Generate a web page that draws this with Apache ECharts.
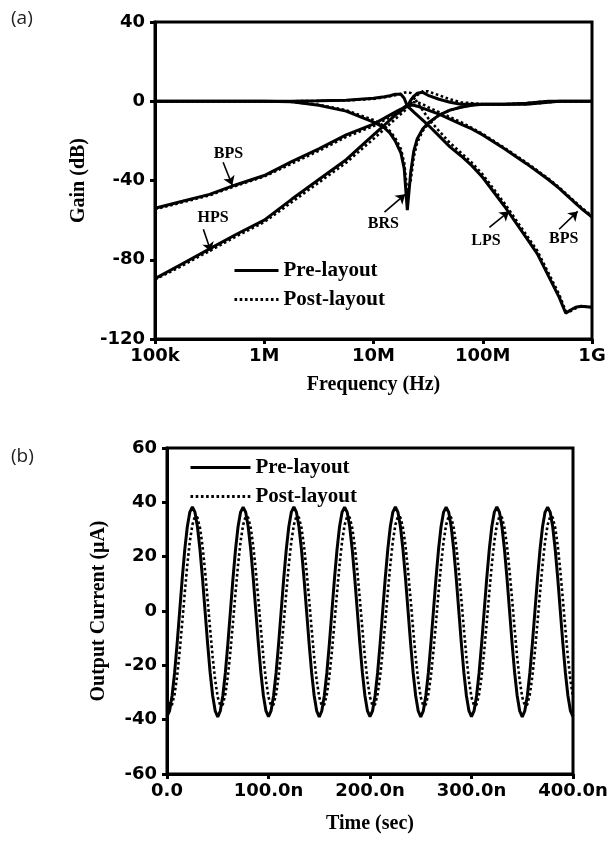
<!DOCTYPE html>
<html><head><meta charset="utf-8">
<script src="https://cdn.jsdelivr.net/npm/echarts@6/dist/echarts.min.js"></script>
<style>html,body{margin:0;padding:0;background:#fff}#c{width:613px;height:841px}</style>
</head><body><div id="c"></div>
<script>
// ---------- (a) Frequency response ----------
const freqHz = [1e5,1.78e5,3.16e5,5.62e5,1e6,1.78e6,3.16e6,5.62e6,1e7,1.26e7,1.41e7,1.58e7,1.78e7,1.91e7,2.04e7,2.19e7,2.34e7,2.51e7,2.82e7,3.16e7,3.98e7,5.01e7,6.31e7,7.94e7,1e8,1.58e8,2.51e8,3.16e8,3.98e8,5.01e8,5.75e8,6.31e8,7.08e8,7.94e8,1e9];
const lpsPre  = [0,0,0,0,0,0,0.2,0.5,1.5,2.3,2.8,3.5,3.5,1.5,-2.5,-4,-5.5,-7,-9.5,-12,-17.5,-23,-27.5,-32.5,-38.5,-53,-69,-77,-88,-99,-107,-105.5,-104,-103.5,-104];
const lpsPost = [0,0,0,0,0,0,0.2,0.4,1.2,2,2.5,3,3.8,4.3,4.6,4.2,2.5,-0.5,-4.5,-8.5,-15,-21,-26,-31,-37,-51.5,-67.5,-75.5,-86.5,-97.5,-106,-106,-104.5,-103.5,-104];
const hpsPre  = [-89.5,-82,-74.5,-67,-60,-49.5,-39.5,-29.5,-17,-12,-9.5,-7,-5,-3.5,-2.5,0.5,2.5,4,4.5,3,1,-0.5,-1.5,-1.5,-1.5,-1.5,-1,-0.5,0,0,0,0,0,0,0];
const hpsPost = [-90,-83,-75.5,-68,-61,-51,-41,-31,-19,-14,-11.5,-9,-6.5,-5,-3.5,-1.5,1,3,5,5,3,1,-0.5,-1,-1.5,-1.5,-1,-0.5,0,0,0,0,0,0,0];
const bpsPre  = [-54,-50.5,-47,-42,-37.5,-30.5,-24,-17,-11.5,-8.5,-7,-5.5,-4,-3,-2.5,-2,-2,-2.5,-3.5,-4.5,-6.5,-9,-11.5,-14,-17,-24,-31.5,-35.5,-39.5,-44,-47,-49,-51.5,-54,-58.5];
const bpsPost = [-54.5,-51,-47.5,-42.5,-38,-31.5,-25,-18,-12.5,-9.5,-8,-6,-4.5,-3,-2,-1,-0.5,-0.5,-1.5,-3,-5.5,-8,-10.5,-13.5,-16.5,-23.5,-31,-35,-39,-43.5,-46.5,-48.5,-51,-53.5,-58];
const brsPre  = [0,0,0,0,0,-0.3,-2,-5,-10.5,-13.5,-16,-20,-26,-34,-55,-36,-25,-19,-14,-11,-7,-4.5,-3,-2,-1.5,-1.5,-1.5,-1,-0.5,0,0,0,0,0,0];
const brsPost = [0,0,0,0,0,-0.3,-1.8,-4.5,-9.5,-12.5,-15,-18.5,-24,-31,-46,-40,-28,-21,-15,-11.5,-7,-4.5,-3,-2,-1.5,-1.5,-1.5,-1,-0.5,0,0,0,0,0,0];
const freqTickLabels = ['100k','1M','10M','100M','1G'];
const gainTicks = [-120,-80,-40,0,40];

const annoText = ['BPS','HPS','BRS','LPS','BPS'];
const annoTextAt = [[4.7e5,-26.8],[3.4e5,-59],[1.23e7,-62],[1.07e8,-70.7],[5.5e8,-69.7]];
const annoArrowFrom = [[4.2e5,-30.8],[2.77e5,-64.6],[1.26e7,-56],[1.15e8,-63.6],[5.0e8,-64.6]];
const annoArrowTo = [[5.1e5,-42.4],[3.25e5,-75.8],[1.95e7,-47],[1.74e8,-55.6],[7.4e8,-55.6]];

// ---------- (b) Transient output ----------
const timeNs = [
0,2.5,5,7.5,10,12.5,15,17.5,20,22.5,25,27.5,30,32.5,35,37.5,40,42.5,45,47.5,
50,52.5,55,57.5,60,62.5,65,67.5,70,72.5,75,77.5,80,82.5,85,87.5,90,92.5,95,97.5,
100,102.5,105,107.5,110,112.5,115,117.5,120,122.5,125,127.5,130,132.5,135,137.5,140,142.5,145,147.5,
150,152.5,155,157.5,160,162.5,165,167.5,170,172.5,175,177.5,180,182.5,185,187.5,190,192.5,195,197.5,
200,202.5,205,207.5,210,212.5,215,217.5,220,222.5,225,227.5,230,232.5,235,237.5,240,242.5,245,247.5,
250,252.5,255,257.5,260,262.5,265,267.5,270,272.5,275,277.5,280,282.5,285,287.5,290,292.5,295,297.5,
300,302.5,305,307.5,310,312.5,315,317.5,320,322.5,325,327.5,330,332.5,335,337.5,340,342.5,345,347.5,
350,352.5,355,357.5,360,362.5,365,367.5,370,372.5,375,377.5,380,382.5,385,387.5,390,392.5,395,397.5,
400];
const curPre = [
-38.8,-36.8,-31.2,-22.7,-11.9,0,11.9,22.6,31.0,36.4,38.3,36.4,31.0,22.6,11.9,0,-11.9,-22.7,-31.2,-36.8,
-39.0,-36.8,-31.2,-22.7,-11.9,0,11.9,22.6,31.0,36.4,38.2,36.4,31.0,22.6,11.9,0,-11.9,-22.7,-31.2,-36.8,
-38.9,-36.8,-31.2,-22.7,-11.9,0,11.9,22.6,31.0,36.4,38.3,36.4,31.0,22.6,11.9,0,-11.9,-22.7,-31.2,-36.8,
-39.0,-36.8,-31.2,-22.7,-11.9,0,11.9,22.6,31.0,36.4,38.2,36.4,31.0,22.6,11.9,0,-11.9,-22.7,-31.2,-36.8,
-38.9,-36.8,-31.2,-22.7,-11.9,0,11.9,22.6,31.0,36.4,38.3,36.4,31.0,22.6,11.9,0,-11.9,-22.7,-31.2,-36.8,
-39.0,-36.8,-31.2,-22.7,-11.9,0,11.9,22.6,31.0,36.4,38.2,36.4,31.0,22.6,11.9,0,-11.9,-22.7,-31.2,-36.8,
-38.9,-36.8,-31.2,-22.7,-11.9,0,11.9,22.6,31.0,36.4,38.3,36.4,31.0,22.6,11.9,0,-11.9,-22.7,-31.2,-36.8,
-39.0,-36.8,-31.2,-22.7,-11.9,0,11.9,22.6,31.0,36.4,38.2,36.4,31.0,22.6,11.9,0,-11.9,-22.7,-31.2,-36.8,
-38.9];
const curPost = [
-31.7,-34.8,-34.4,-30.6,-23.9,-14.8,-4.3,6.7,17.0,25.6,31.7,34.8,34.4,30.6,23.9,14.8,4.3,-6.7,-17.0,-25.6,
-31.7,-34.8,-34.4,-30.6,-23.9,-14.8,-4.3,6.7,17.0,25.6,31.7,34.8,34.4,30.6,23.9,14.8,4.3,-6.7,-17.0,-25.6,
-31.7,-34.8,-34.4,-30.6,-23.9,-14.8,-4.3,6.7,17.0,25.6,31.7,34.8,34.4,30.6,23.9,14.8,4.3,-6.7,-17.0,-25.6,
-31.7,-34.8,-34.4,-30.6,-23.9,-14.8,-4.3,6.7,17.0,25.6,31.7,34.8,34.4,30.6,23.9,14.8,4.3,-6.7,-17.0,-25.6,
-31.7,-34.8,-34.4,-30.6,-23.9,-14.8,-4.3,6.7,17.0,25.6,31.7,34.8,34.4,30.6,23.9,14.8,4.3,-6.7,-17.0,-25.6,
-31.7,-34.8,-34.4,-30.6,-23.9,-14.8,-4.3,6.7,17.0,25.6,31.7,34.8,34.4,30.6,23.9,14.8,4.3,-6.7,-17.0,-25.6,
-31.7,-34.8,-34.4,-30.6,-23.9,-14.8,-4.3,6.7,17.0,25.6,31.7,34.8,34.4,30.6,23.9,14.8,4.3,-6.7,-17.0,-25.6,
-31.7,-34.8,-34.4,-30.6,-23.9,-14.8,-4.3,6.7,17.0,25.6,31.7,34.8,34.4,30.6,23.9,14.8,4.3,-6.7,-17.0,-25.6,
-31.7];
const timeTickLabels = ['0.0','100.0n','200.0n','300.0n','400.0n'];

// ---------- build ----------
const PRE = 'Pre-layout', POST = 'Post-layout';
const tickFont = {fontFamily:'DejaVu Sans', fontWeight:'bold', fontSize:18, color:'#000'};
const titleFont = {fontFamily:'Liberation Serif', fontWeight:'bold', fontSize:20, color:'#000'};
const legendFont = {fontFamily:'Liberation Serif', fontWeight:'bold', fontSize:21, color:'#000'};
const solid = {color:'#000', width:3, type:'solid'};
const dotted = {color:'#000', width:2.6, type:[2.6,2.6], cap:'butt'};

function pairs(xs, ys){ return xs.map((x,i)=>[x, ys[i]]); }
function lineSeries(name, xs, ys, style, ax){
  return {name, type:'line', xAxisIndex:ax, yAxisIndex:ax, data:pairs(xs,ys), symbol:'none',
    lineStyle:style, itemStyle:{color:'#000'}, animation:false, z: style===dotted?3:2};
}

const series = [
  lineSeries(PRE, freqHz, lpsPre, solid, 0),
  lineSeries(PRE, freqHz, hpsPre, solid, 0),
  lineSeries(PRE, freqHz, bpsPre, solid, 0),
  lineSeries(PRE, freqHz, brsPre, solid, 0),
  lineSeries(POST, freqHz, lpsPost, dotted, 0),
  lineSeries(POST, freqHz, hpsPost, dotted, 0),
  lineSeries(POST, freqHz, bpsPost, dotted, 0),
  lineSeries(POST, freqHz, brsPost, dotted, 0),
  {type:'scatter', xAxisIndex:0, yAxisIndex:0, symbolSize:0, animation:false, silent:true,
   itemStyle:{opacity:1, color:'#000'},
   data: annoText.map((t,i)=>({name:t, value:annoTextAt[i]})),
   label:{show:true, position:'inside', formatter:'{b}', fontFamily:'Liberation Serif', fontWeight:'bold', fontSize:16, color:'#000', opacity:1}},
  {type:'lines', coordinateSystem:'cartesian2d', xAxisIndex:0, yAxisIndex:0, animation:false, silent:true,
   symbol:['none','arrow'], symbolSize:9, lineStyle:{color:'#000', width:1.6, opacity:1},
   data: annoArrowFrom.map((f,i)=>({coords:[f, annoArrowTo[i]]}))},
  lineSeries(PRE, timeNs, curPre, solid, 1),
  lineSeries(POST, timeNs, curPost, dotted, 1)
];

const axisLineStyle = {onZero:false, lineStyle:{color:'#000', width:3}};
const tickStyle = {length:5, lineStyle:{width:3, color:'#000'}};
const legendBase = {data:[PRE,POST], orient:'vertical', itemHeight:14, itemGap:8,
  itemStyle:{color:'transparent', borderWidth:0, opacity:0},
  lineStyle:{width:3}, textStyle:legendFont, selectedMode:false};

const option = {
  backgroundColor:'#fff',
  animation:false,
  title:[
    {text:'(a)', left:6, top:4, textStyle:{fontFamily:'Open Sans', fontWeight:'normal', fontSize:19, color:'#222'}},
    {text:'(b)', left:6, top:442, textStyle:{fontFamily:'Open Sans', fontWeight:'normal', fontSize:19, color:'#222'}}
  ],
  legend:[
    Object.assign({}, legendBase, {left:228, top:255, itemWidth:44}),
    Object.assign({}, legendBase, {left:184, top:452, itemWidth:60})
  ],
  grid:[
    {left:155, top:22, width:437, height:317, show:true, borderColor:'#000', borderWidth:3, backgroundColor:'transparent'},
    {left:167, top:448, width:406, height:326, show:true, borderColor:'#000', borderWidth:3, backgroundColor:'transparent'}
  ],
  xAxis:[
    {gridIndex:0, type:'log', logBase:10, min:1e5, max:1e9,
     name:'Frequency (Hz)', nameLocation:'middle', nameGap:36, nameTextStyle:titleFont,
     axisLine:axisLineStyle, axisTick:tickStyle,
     minorTick:{show:false}, splitLine:{show:false},
     axisLabel:Object.assign({margin:8, formatter:v=>freqTickLabels[Math.round(Math.log10(v))-5]}, tickFont)},
    {gridIndex:1, type:'value', min:0, max:400, interval:100,
     name:'Time (sec)', nameLocation:'middle', nameGap:40, nameTextStyle:titleFont,
     axisLine:axisLineStyle, axisTick:tickStyle,
     splitLine:{show:false},
     axisLabel:Object.assign({margin:8, formatter:v=>timeTickLabels[Math.round(v/100)]}, tickFont)}
  ],
  yAxis:[
    {gridIndex:0, type:'value', min:gainTicks[0], max:gainTicks[gainTicks.length-1], interval:40,
     name:'Gain (dB)', nameLocation:'middle', nameGap:50, nameTextStyle:titleFont,
     axisLine:axisLineStyle, axisTick:tickStyle,
     splitLine:{show:false}, axisLabel:Object.assign({margin:10}, tickFont)},
    {gridIndex:1, type:'value', min:-60, max:60, interval:20,
     name:'Output Current (\u03bcA)', nameLocation:'middle', nameGap:58, nameTextStyle:titleFont,
     axisLine:axisLineStyle, axisTick:tickStyle,
     splitLine:{show:false}, axisLabel:Object.assign({margin:10}, tickFont)}
  ],
  series
};
const chart = echarts.init(document.getElementById('c'));
chart.setOption(option);
</script>
</body></html>
